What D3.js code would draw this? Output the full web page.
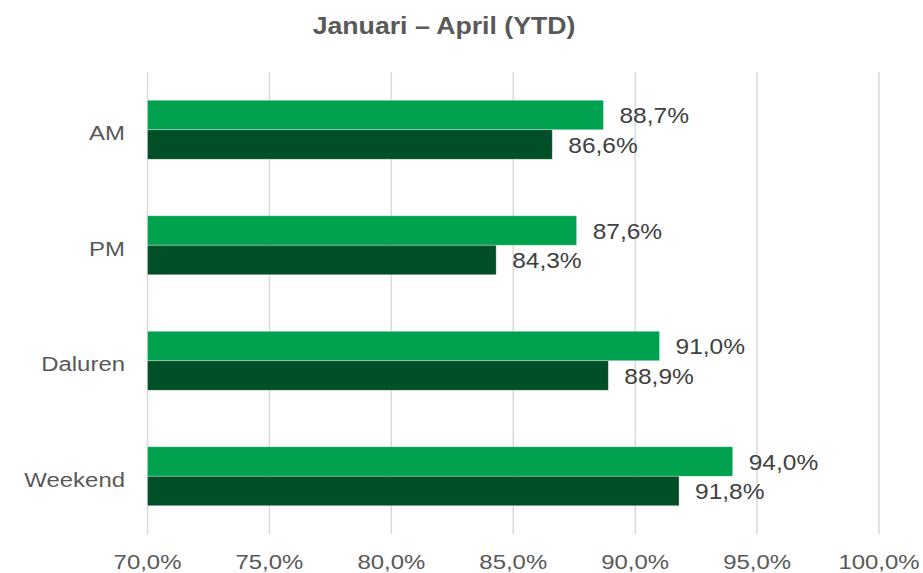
<!DOCTYPE html>
<html>
<head>
<meta charset="utf-8">
<script src="https://cdn.jsdelivr.net/npm/d3@7"></script>
<style>
  body { margin: 0; background: #fff; }
  text { font-family: "Liberation Sans", Arial, sans-serif; }
</style>
</head>
<body>
<svg id="chart" width="923" height="573"></svg>
<script>
// Chart data
const categories = ['AM', 'PM', 'Daluren', 'Weekend'];
const seriesLight = [88.7, 87.6, 91.0, 94.0];
const seriesDark = [86.6, 84.3, 88.9, 91.8];
const xTicks = [70, 75, 80, 85, 90, 95, 100];
const title = 'Januari – April (YTD)';

const svg = d3.select('#chart');

// Scales
const x = d3.scaleLinear().domain([70, 100]).range([147.5, 879]);
const y = d3.scaleBand().domain(categories).range([72, 534]).padding(0);
const barH = 29.5;
const stretch = 1.14; // text in the reference is a bit wide

const fmt = v => d3.format('.1f')(v).replace('.', ',') + '%';
const place = (px, py, s) => `translate(${px},${py}) scale(${s},1)`;

// Title
svg.append('text')
    .attr('transform', place(444, 34, 1.16))
    .attr('text-anchor', 'middle')
    .style('font-size', '23px')
    .style('font-weight', 'bold')
    .style('fill', '#595959')
    .text(title);

// Gridlines
svg.append('g')
    .selectAll('line')
    .data(xTicks)
    .enter().append('line')
    .attr('x1', d => x(d))
    .attr('x2', d => x(d))
    .attr('y1', 72)
    .attr('y2', 534)
    .style('stroke', '#d9d9d9')
    .style('stroke-width', 1.5);

// Bars
const groups = svg.append('g')
    .selectAll('g')
    .data(categories)
    .enter().append('g');

groups.append('rect')
    .attr('x', x(70))
    .attr('y', d => y(d) + y.bandwidth() / 2 - barH)
    .attr('width', (d, i) => x(seriesLight[i]) - x(70))
    .attr('height', barH)
    .style('fill', '#00A14F')
    .style('stroke', 'rgba(255,255,255,0.45)')
    .style('stroke-width', 0.75);

groups.append('rect')
    .attr('x', x(70))
    .attr('y', d => y(d) + y.bandwidth() / 2)
    .attr('width', (d, i) => x(seriesDark[i]) - x(70))
    .attr('height', barH)
    .style('fill', '#004F27')
    .style('stroke', 'rgba(255,255,255,0.45)')
    .style('stroke-width', 0.75);

// Value labels
groups.append('text')
    .attr('transform', (d, i) => place(x(seriesLight[i]) + 16, y(d) + y.bandwidth() / 2 - barH / 2 + 8, stretch))
    .style('font-size', '21.5px')
    .style('fill', '#404040')
    .text((d, i) => fmt(seriesLight[i]));

groups.append('text')
    .attr('transform', (d, i) => place(x(seriesDark[i]) + 16, y(d) + y.bandwidth() / 2 + barH / 2 + 8, stretch))
    .style('font-size', '21.5px')
    .style('fill', '#404040')
    .text((d, i) => fmt(seriesDark[i]));

// Category labels
svg.append('g')
    .selectAll('text')
    .data(categories)
    .enter().append('text')
    .attr('transform', d => place(125, y(d) + y.bandwidth() / 2 + 10.5, stretch))
    .attr('text-anchor', 'end')
    .style('font-size', '21px')
    .style('fill', '#595959')
    .text(d => d);

// X tick labels
svg.append('g')
    .selectAll('text')
    .data(xTicks)
    .enter().append('text')
    .attr('transform', d => place(x(d), 569, stretch))
    .attr('text-anchor', 'middle')
    .style('font-size', '21px')
    .style('fill', '#595959')
    .text(d => fmt(d));
</script>
</body>
</html>
